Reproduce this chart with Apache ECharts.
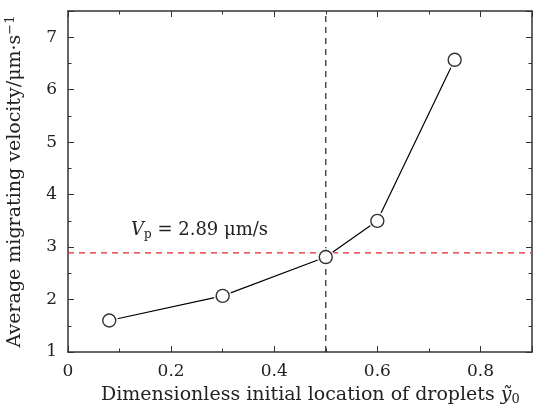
<!DOCTYPE html>
<html>
<head>
<meta charset="utf-8">
<script src="https://cdn.jsdelivr.net/npm/echarts@6/dist/echarts.min.js"></script>
<style>
  html, body { margin: 0; padding: 0; background: #fff; }
  #chart { width: 536px; height: 408px; }
</style>
</head>
<body>
<div id="chart"></div>
<script>
// 数据
const locations = [0.08, 0.3, 0.5, 0.6, 0.75]
const velocities = [1.6, 2.07, 2.81, 3.5, 6.57]
const vpValue = 2.89
const markX = 0.5
const xRange = [0, 0.9]
const yRange = [1, 7.5]

const points = locations.map((x, i) => [x, velocities[i]])

const fontFamily = '"DejaVu Serif", "Liberation Serif", serif'
const axisColor = '#333'
const textColor = '#222'

const chart = echarts.init(document.getElementById('chart'))

const baseX = {
  type: 'value',
  min: xRange[0],
  max: xRange[1],
  interval: 0.2,
  splitLine: { show: false },
  axisLine: { show: true, onZero: false, lineStyle: { color: axisColor, width: 1.5 } },
  axisTick: { show: true, inside: true, length: 6, lineStyle: { color: axisColor, width: 1 } },
  minorTick: { show: true, splitNumber: 2, length: 3.5, lineStyle: { color: axisColor, width: 1 } }
}

const baseY = {
  type: 'value',
  min: yRange[0],
  max: yRange[1],
  interval: 1,
  splitLine: { show: false },
  axisLine: { show: true, onZero: false, lineStyle: { color: axisColor, width: 1.5 } },
  axisTick: { show: true, inside: true, length: 6, lineStyle: { color: axisColor, width: 1 } },
  minorTick: { show: true, splitNumber: 2, length: 3.5, lineStyle: { color: axisColor, width: 1 } }
}

const option = {
  animation: false,
  backgroundColor: '#fff',
  grid: { left: 68, right: 4, top: 11, bottom: 56, containLabel: false, outerBoundsMode: 'none' },
  xAxis: [
    {
      ...baseX,
      position: 'bottom',
      axisLabel: {
        show: true,
        margin: 11,
        fontFamily,
        fontSize: 17,
        color: textColor,
        showMaxLabel: false,
        formatter: v => String(v)
      }
    },
    { ...baseX, position: 'top', axisLabel: { show: false } }
  ],
  yAxis: [
    {
      ...baseY,
      position: 'left',
      name: '{t|Average migrating velocity/μm·s}{sup|−1}',
      nameLocation: 'middle',
      nameGap: 41,
      nameTextStyle: {
        rich: {
          t: { fontFamily, fontSize: 19, color: textColor },
          sup: { fontFamily, fontSize: 13, color: textColor, verticalAlign: 'top', padding: [0, 0, 10, 0] }
        }
      },
      axisLabel: {
        show: true,
        margin: 11,
        fontFamily,
        fontSize: 17,
        color: textColor,
        showMaxLabel: false
      }
    },
    { ...baseY, position: 'right', axisLabel: { show: false } }
  ],
  graphic: [
    {
      type: 'text',
      left: 101,
      top: 386,
      style: {
        text: '{t|Dimensionless initial location of droplets }{v|ỹ}{s|0}',
        rich: {
          t: { fontFamily, fontSize: 19, fill: textColor },
          v: { fontFamily, fontSize: 19, fontStyle: 'italic', fill: textColor },
          s: { fontFamily, fontSize: 13, fill: textColor, padding: [8, 0, 0, 0] }
        }
      }
    },
    {
      type: 'text',
      left: 131,
      top: 221,
      style: {
        text: '{v|V}{s|p}{t| = 2.89 μm/s}',
        rich: {
          v: { fontFamily, fontSize: 18, fontStyle: 'italic', fill: textColor },
          s: { fontFamily, fontSize: 12, fill: textColor, padding: [9, 0, 0, 0] },
          t: { fontFamily, fontSize: 18, fill: textColor }
        }
      }
    }
  ],
  series: [
    {
      // 红色参考线 Vp
      type: 'line',
      data: [[xRange[0], vpValue], [xRange[1], vpValue]],
      showSymbol: false,
      silent: true,
      lineStyle: { color: '#e4252c', width: 1.2, type: [6, 5] },
      z: 1
    },
    {
      // 竖直参考线
      type: 'line',
      data: [[markX, yRange[0]], [markX, yRange[1]]],
      showSymbol: false,
      silent: true,
      lineStyle: { color: '#222', width: 1.2, type: [6, 5] },
      z: 1
    },
    {
      type: 'line',
      data: points,
      showSymbol: false,
      lineStyle: { color: '#000', width: 1.2 },
      z: 2
    },
    {
      // 空白间隙
      type: 'scatter',
      data: points,
      symbol: 'circle',
      symbolSize: 18,
      itemStyle: { color: '#fff', borderWidth: 0 },
      z: 3
    },
    {
      type: 'scatter',
      data: points,
      symbol: 'circle',
      symbolSize: 13,
      itemStyle: { color: '#fff', borderColor: '#000', borderWidth: 1.4 },
      z: 4
    }
  ]
}

chart.setOption(option)
</script>
</body>
</html>
